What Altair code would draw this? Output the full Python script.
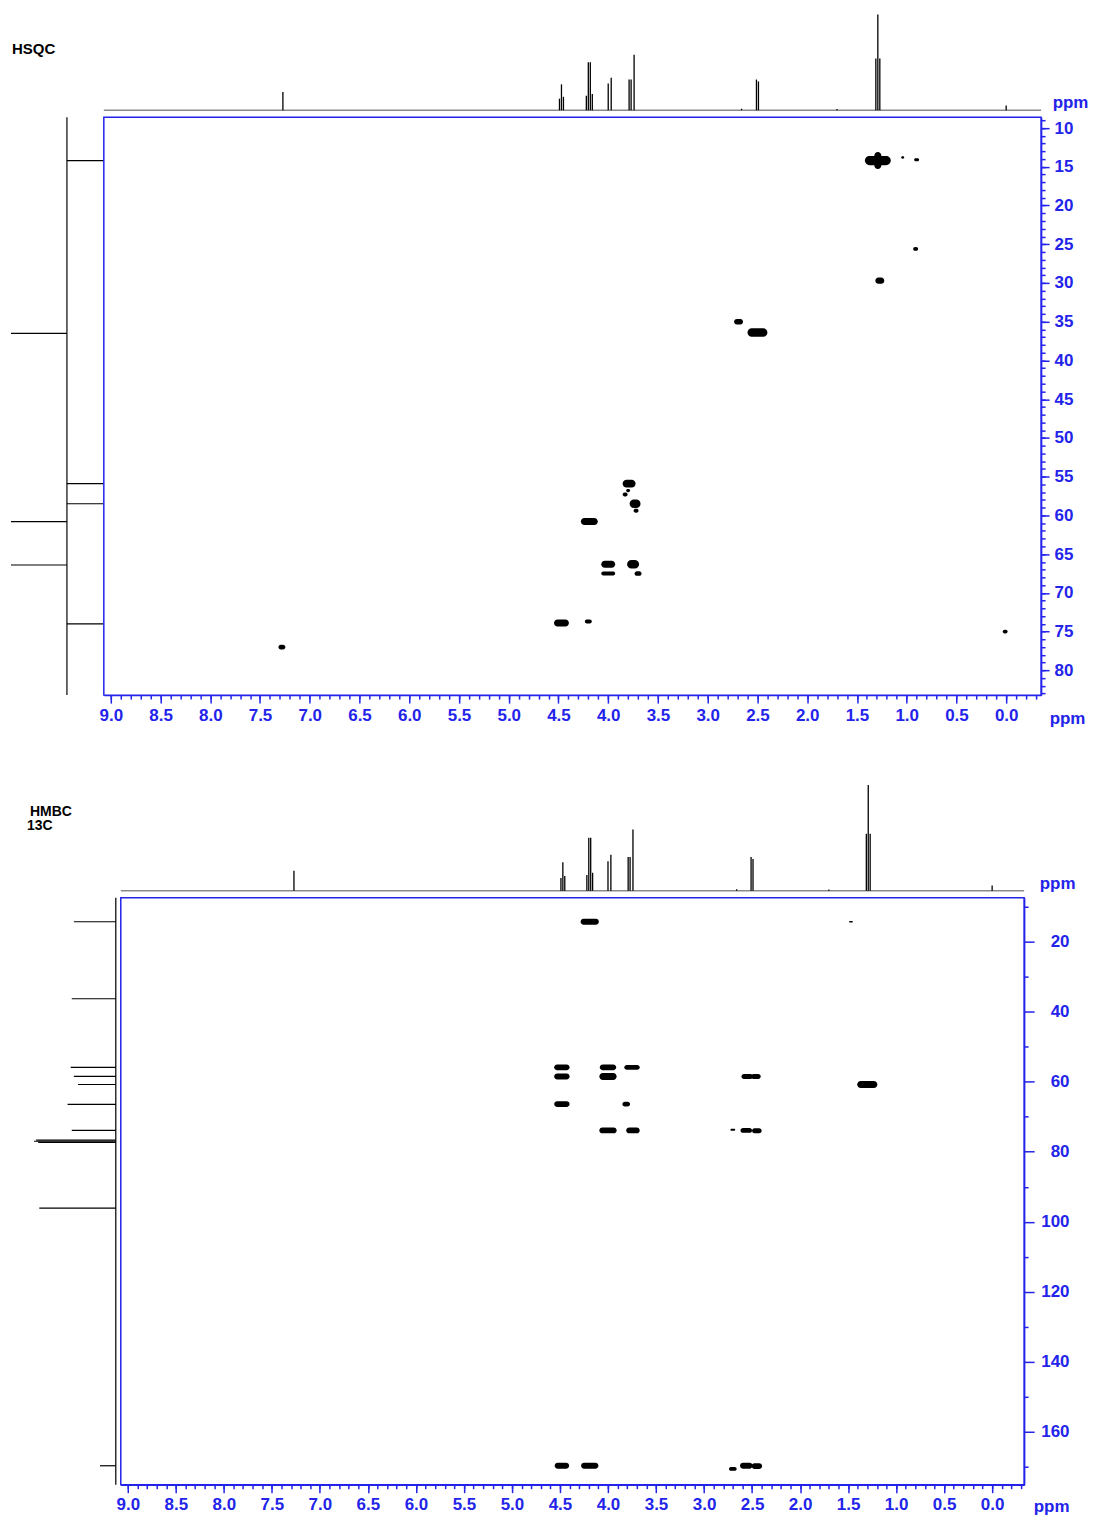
import altair as alt
import pandas as pd

BLUE = "#2323ea"
FONT = "Liberation Sans"

# ---------------- 1H projection (same spectrum above both panels) ----------------
h1_ppm = [7.27, 4.49, 4.47, 4.45, 4.22, 4.20, 4.18, 4.16, 4.00, 3.97, 3.79, 3.77, 3.74,
          2.66, 2.51, 2.49, 1.70, 1.31, 1.29, 1.27, 0.00]
h1_int = [0.19, 0.12, 0.27, 0.14, 0.15, 0.50, 0.50, 0.17, 0.28, 0.34, 0.32, 0.32, 0.58,
          0.015, 0.32, 0.30, 0.012, 0.54, 1.00, 0.54, 0.05]

# ---------------- HSQC ----------------
hsqc_c13_ppm = [14.2, 36.5, 55.9, 58.5, 60.8, 66.4, 74.0]
hsqc_c13_int = [0.66, -1.0, 0.66, 0.66, -1.0, -1.0, 0.66]

hsqc_h = [1.29, 1.29, 1.04, 0.90, 0.91, 1.27, 2.69, 2.50, 3.79, 3.80, 3.83, 3.73, 3.72,
          4.19, 4.00, 3.75, 4.00, 3.70, 4.47, 4.20, 7.28, 0.01]
hsqc_c = [14.2, 14.2, 13.8, 14.1, 25.6, 29.7, 35.0, 36.4, 55.9, 56.8, 57.3, 58.5, 59.4,
          60.8, 66.3, 66.3, 67.5, 67.5, 73.9, 73.7, 77.0, 75.0]
hsqc_dh = [0.26, 0.07, 0.03, 0.05, 0.05, 0.09, 0.09, 0.20, 0.13, 0.04, 0.05, 0.11, 0.05,
           0.17, 0.14, 0.12, 0.14, 0.07, 0.15, 0.07, 0.07, 0.05]
hsqc_dc = [1.2, 2.2, 0.3, 0.4, 0.5, 0.8, 0.7, 1.1, 1.0, 0.4, 0.5, 1.1, 0.5,
           0.9, 0.9, 1.1, 0.5, 0.6, 0.9, 0.5, 0.6, 0.5]

# ---------------- HMBC ----------------
hmbc_c13_ppm = [14.3, 36.3, 55.9, 58.5, 60.8, 66.5, 73.9, 76.7, 77.0, 77.3, 96.1, 169.7]
hmbc_c13_int = [0.40, 0.42, 0.43, 0.40, 0.36, 0.46, 0.42, 0.76, 0.78, 0.74, 0.73, 0.15]

hmbc_h = [4.19, 1.47, 4.48, 4.48, 4.00, 4.00, 3.75, 2.55, 2.46, 1.30, 4.48, 3.81, 4.00,
          3.74, 2.70, 2.56, 2.45, 4.48, 4.19, 2.70, 2.56, 2.45]
hmbc_c = [14.3, 14.3, 55.9, 58.5, 55.9, 58.5, 55.9, 58.5, 58.5, 60.8, 66.4, 66.4, 73.9,
          73.9, 73.7, 73.9, 74.0, 169.7, 169.7, 170.6, 169.7, 169.8]
hmbc_dh = [0.19, 0.04, 0.16, 0.16, 0.17, 0.18, 0.16, 0.12, 0.10, 0.21, 0.16, 0.08, 0.18,
           0.14, 0.05, 0.12, 0.10, 0.15, 0.18, 0.08, 0.13, 0.11]
hmbc_dc = [1.7, 0.4, 1.7, 1.7, 1.7, 2.0, 1.4, 1.4, 1.4, 2.0, 1.7, 1.4, 1.7,
           1.7, 0.6, 1.4, 1.4, 1.7, 1.7, 1.1, 1.7, 1.7]

# ---------------- axis ticks ----------------
x_major = [9.0, 8.5, 8.0, 7.5, 7.0, 6.5, 6.0, 5.5, 5.0, 4.5, 4.0, 3.5, 3.0, 2.5, 2.0,
           1.5, 1.0, 0.5, 0.0]
x_minor = [round(-0.3 + 0.1 * i, 1) for i in range(94)]
hsqc_y_major = [10, 15, 20, 25, 30, 35, 40, 45, 50, 55, 60, 65, 70, 75, 80]
hsqc_y_minor = list(range(9, 84))
hmbc_y_major = [20, 40, 60, 80, 100, 120, 140, 160]
hmbc_y_minor = [10, 30, 50, 70, 90, 110, 130, 150, 170]

HSQC_X = [-0.351, 9.070]
HSQC_Y = [8.6, 83.2]
HMBC_X = [-0.333, 9.073]
HMBC_Y = [7.45, 175.1]

h1_df = pd.DataFrame({"ppm": h1_ppm, "int": h1_int, "base": 0.0})
zero_df = pd.DataFrame({"b": [0.0]})


def spots_df(h, c, dh, dc):
    return pd.DataFrame({
        "x0": [a + d / 2 for a, d in zip(h, dh)],
        "x1": [a - d / 2 for a, d in zip(h, dh)],
        "y0": [a - d / 2 for a, d in zip(c, dc)],
        "y1": [a + d / 2 for a, d in zip(c, dc)],
    })


def style():
    return dict(domainColor=BLUE, tickColor=BLUE, labelColor=BLUE, titleColor=BLUE,
                domainWidth=1.5, tickWidth=1.5, grid=False,
                labelFont=FONT, labelFontSize=17, labelFontWeight="bold",
                titleFont=FONT, titleFontSize=17, titleFontWeight="bold")


WHITE_VIEW = alt.ViewBackground(fill="white", strokeWidth=0)


def main_panel(df, xdom, ydom, w, h, ymaj, ymin, ytick, ylab_align, ylab_pad,
               ytitle_xy, xtitle_xy, xlab_pad):
    xs = alt.Scale(domain=xdom, reverse=True, nice=False, zero=False)
    ys = alt.Scale(domain=ydom, reverse=True, nice=False, zero=False)
    xmaj = alt.Axis(orient="bottom", values=x_major, format=".1f", tickSize=8, labelPadding=xlab_pad,
                    labelFlush=False, labelOverlap=False, title="ppm", titleAngle=0,
                    titleAlign="center", titleBaseline="alphabetic",
                    titleX=xtitle_xy[0], titleY=xtitle_xy[1], **style())
    xmin = alt.Axis(orient="bottom", values=x_minor, tickSize=4, labels=False, domain=False,
                    title="", **style())
    ymaj_ax = alt.Axis(orient="right", values=ymaj, format="d", tickSize=ytick, labelPadding=ylab_pad,
                       labelAlign=ylab_align, labelBaseline="middle", labelFlush=False,
                       labelOverlap=False, title="ppm", titleAngle=0, titleAlign="center",
                       titleBaseline="alphabetic", titleX=ytitle_xy[0], titleY=ytitle_xy[1],
                       **style())
    ymin_ax = alt.Axis(orient="right", values=ymin, tickSize=4, labels=False, domain=False,
                       title="", **style())
    spots = alt.Chart(df).mark_rect(color="black", cornerRadius=40).encode(
        x=alt.X("x0:Q", scale=xs, axis=xmaj), x2="x1:Q",
        y=alt.Y("y0:Q", scale=ys, axis=ymaj_ax), y2="y1:Q")
    minor = alt.Chart(df).mark_point(opacity=0).encode(
        x=alt.X("x0:Q", scale=xs, axis=xmin),
        y=alt.Y("y0:Q", scale=ys, axis=ymin_ax))
    return alt.layer(spots, minor).resolve_axis(x="independent", y="independent").properties(
        width=w, height=h,
        view=alt.ViewBackground(stroke=BLUE, strokeWidth=1.5, fill="white"))


def spectrum(xdom, w, h, ytop):
    xs = alt.Scale(domain=xdom, reverse=True, nice=False, zero=False)
    ys = alt.Scale(domain=[0, ytop], nice=False, zero=False)
    base = alt.Chart(zero_df).mark_rule(color="#8a8a8a", strokeWidth=1.5).encode(
        y=alt.Y("b:Q", scale=ys, axis=None))
    sticks = alt.Chart(h1_df).mark_rule(color="black", strokeWidth=1.3).encode(
        x=alt.X("ppm:Q", scale=xs, axis=None),
        y=alt.Y("base:Q", scale=ys, axis=None), y2="int:Q")
    return alt.layer(base, sticks).properties(width=w, height=h, view=WHITE_VIEW)


def projection(ppm, inten, ydom, xdom, reverse, w, h, base_color, base_width):
    df = pd.DataFrame({"ppm": ppm, "int": inten, "base": 0.0})
    xs = alt.Scale(domain=xdom, reverse=reverse, nice=False, zero=False)
    ys = alt.Scale(domain=ydom, reverse=True, nice=False, zero=False)
    base = alt.Chart(zero_df).mark_rule(color=base_color, strokeWidth=base_width).encode(
        x=alt.X("b:Q", scale=xs, axis=None))
    peaks = alt.Chart(df).mark_rule(color="black", strokeWidth=1.2).encode(
        y=alt.Y("ppm:Q", scale=ys, axis=None),
        x=alt.X("base:Q", scale=xs, axis=None), x2="int:Q")
    return alt.layer(base, peaks).properties(width=w, height=h, view=WHITE_VIEW)


def label_chart(texts, xs_, ys_, sizes, w, h):
    layers = []
    for t, x, y, s in zip(texts, xs_, ys_, sizes):
        layers.append(alt.Chart(pd.DataFrame({"t": [t]})).mark_text(
            align="left", baseline="middle", font=FONT, fontSize=s, fontWeight="bold",
            color="black").encode(text="t:N", x=alt.value(x), y=alt.value(y)))
    return alt.layer(*layers).properties(width=w, height=h, view=WHITE_VIEW)


# ---------------- HSQC block ----------------
hsqc_lbl = label_chart(["HSQC"], [1], [37], [15], 93, 98)
hsqc_spec = spectrum(HSQC_X, 939, 98, 98 / 96)
hsqc_proj = projection(hsqc_c13_ppm, hsqc_c13_int, HSQC_Y, [-1.0, 0.66], False, 93, 579, "#444444", 1.6)
hsqc_main = main_panel(spots_df(hsqc_h, hsqc_c, hsqc_dh, hsqc_dc), HSQC_X, HSQC_Y, 939, 579,
                       hsqc_y_major, hsqc_y_minor, 8, "left", 5, (29, -10), (965, 28), 4)
hsqc_block = alt.concat(hsqc_lbl, hsqc_spec, hsqc_proj, hsqc_main, columns=2,
                        spacing={"row": 7, "column": 0}, bounds="flush", align="none")

# ---------------- HMBC block ----------------
hmbc_lbl = label_chart(["HMBC", "13C"], [19, 16], [31, 45], [14, 14], 110, 110)
hmbc_spec = spectrum(HMBC_X, 905, 110, 110 / 106)
hmbc_proj = projection(hmbc_c13_ppm, hmbc_c13_int, HMBC_Y, [-0.048, 1.0], True, 110, 588, "#222222", 1.4)
hmbc_main = main_panel(spots_df(hmbc_h, hmbc_c, hmbc_dh, hmbc_dc), HMBC_X, HMBC_Y, 905, 588,
                       hmbc_y_major, hmbc_y_minor, 10, "right", 35, (33, -9), (932, 27), 4)
hmbc_block = alt.concat(hmbc_lbl, hmbc_spec, hmbc_proj, hmbc_main, columns=2,
                        spacing={"row": 7, "column": 0}, bounds="flush", align="none")

chart = alt.vconcat(hsqc_block, hmbc_block, spacing=54).properties(
    padding={"left": 2, "top": 3, "right": 0, "bottom": 0}
).configure_view(stroke=None).configure(font=FONT, background="white")

chart.save("out.html", embed_options={"renderer": "svg", "actions": False})
